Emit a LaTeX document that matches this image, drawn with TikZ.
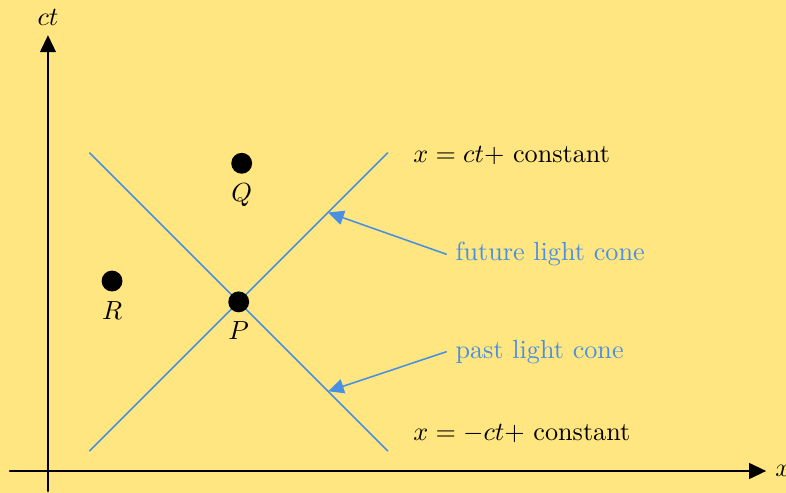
\documentclass[tikz,border=0pt]{standalone}
\usepackage{amsmath}
\usepackage{xcolor}
\usepackage{tikz}
\usetikzlibrary{arrows.meta,positioning,calc}
\definecolor{paper}{HTML}{FFE680}
\definecolor{coneblue}{HTML}{4A90E2}
\tikzset{
    every picture/.style={line cap=round,line join=round},
    axisline/.style={-{Triangle[length=6.5pt,width=6pt]},draw=black,
      line width=0.8pt},
    coneline/.style={draw=coneblue,line width=0.6pt},
    event/.style={circle,fill=black,minimum size=2.8mm,inner sep=0pt},
    conearrow/.style={-{Triangle[length=6pt,width=5.5pt]},draw=coneblue,
      line width=0.6pt},
    conelabel/.style={text=coneblue,anchor=west}
}

\begin{document}
\begin{tikzpicture}[font=\normalsize]
  \fill[paper] (-0.644,-0.295) rectangle (9.906,6.322);
  \useasboundingbox (-0.644,-0.295) rectangle (9.906,6.322);
  % axes
  \coordinate (xstart) at (-0.51,0);
  \coordinate (xend) at (9.64,0);
  \coordinate (ystart) at (0,-0.27);
  \coordinate (yend) at (0,5.85);
  \draw[axisline] (xstart) -- (xend);
  \draw[axisline] (ystart) -- (yend);
  \node[right=0pt of xend] (xlab) {$x$};
  \node[above=0pt of yend] (ctlab) {$ct$};
  % light cone through P
  \coordinate (P) at (2.56,2.27);
  \coordinate (c1) at ($(P)+(-2,-2)$);
  \coordinate (c2) at ($(P)+(2,2)$);
  \coordinate (c3) at ($(P)+(-2,2)$);
  \coordinate (c4) at ($(P)+(2,-2)$);
  \draw[coneline] (c1) -- (c2);
  \draw[coneline] (c3) -- (c4);
  % events
  \node[event] (p) at (P) {};
  \node[below=0mm of p] (plab) {$P$};
  \node[event] (q) at (2.60,4.13) {};
  \node[below=0mm of q] (qlab) {$Q$};
  \node[event] (r) at (0.86,2.55) {};
  \node[below=0mm of r] (rlab) {$R$};
  % equations of the lines
  \node[anchor=west] (eqplus) at (4.78,4.24) {$x=ct+$ constant};
  \node[anchor=west] (eqminus) at (4.78,0.50) {$x=-ct+$ constant};
  % cone labels
  \node[conelabel] (future) at (5.346,2.91) {future light cone};
  \node[conelabel] (past) at (5.346,1.60) {past light cone};
  \coordinate (futhit) at ($(P)+(1.2,1.2)$);
  \coordinate (pasthit) at ($(P)+(1.2,-1.2)$);
  \draw[conearrow] (future.west) -- (futhit);
  \draw[conearrow] (past.west) -- (pasthit);
\end{tikzpicture}
\end{document}
